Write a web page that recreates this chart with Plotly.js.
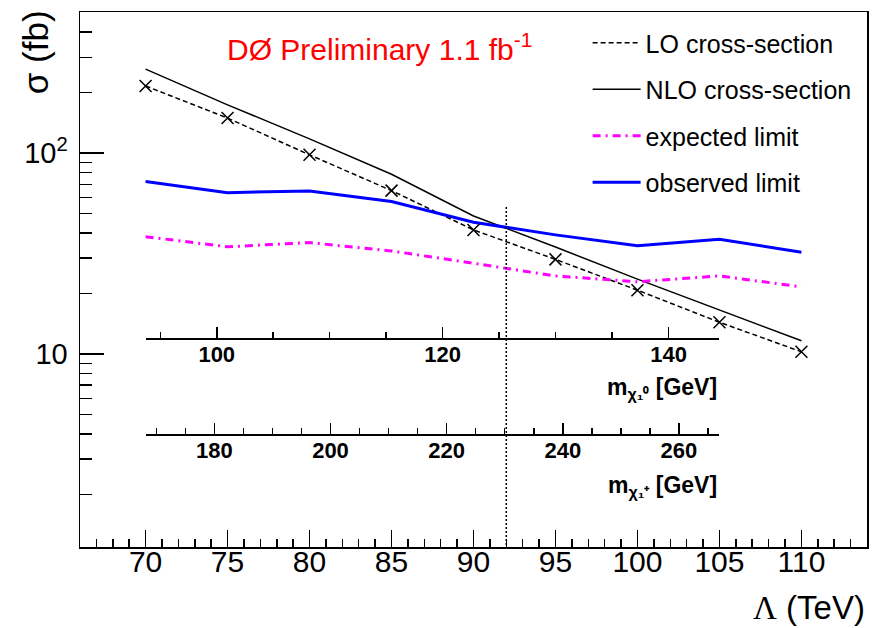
<!DOCTYPE html>
<html>
<head>
<meta charset="utf-8">
<script src="https://cdn.plot.ly/plotly-3.0.1.min.js"></script>
<style>html,body{margin:0;padding:0;background:#fff}#chart{width:872px;height:628px}</style>
</head>
<body>
<div id="chart"></div>
<script>
// Lambda (TeV)
const lambdaTeV = [70, 75, 80, 85, 90, 95, 100, 105, 110];
// cross sections and limits (fb)
const loXsec   = [216, 149.5, 98.1, 65.1, 41.5, 29.6, 20.8, 14.4, 10.27];
const nloXsec  = [262, 174, 117.8, 78.5, 48.7, 34.1, 23.6, 16.6, 11.65];
const expLimit = [38.4, 34.2, 35.9, 32.6, 28.3, 24.5, 22.9, 24.5, 21.6];
const obsLimit = [72.2, 63.6, 64.9, 57.4, 45.3, 39.2, 34.6, 37.3, 32.1];
// vertical exclusion marker
const exclLambda = [92, 92];
const exclSigma  = [54, 1.096];
// tick values
const yMajorTicks = [10, 100];
const yMajorLabels = ["10", "10<sup>2</sup>"];
const yMinorTicks = [2,3,4,5,6,7,8,9,20,30,40,50,60,70,80,90,200,300,400,500];
const mChi0Ticks = [100, 120, 140];
const mChiPTicks = [180, 200, 220, 240, 260];

const FONT = "Liberation Sans, Arial, Helvetica, sans-serif";

const traces = [
  {x: lambdaTeV, y: loXsec, mode: 'lines', name: 'LO cross-section', legendgroup: 'a',
   line: {color: 'black', width: 1.5, dash: '5px,3px'}},
  {x: lambdaTeV, y: nloXsec, mode: 'lines', name: 'NLO cross-section', legendgroup: 'b',
   line: {color: 'black', width: 1.5}},
  {x: lambdaTeV, y: expLimit, mode: 'lines', name: 'expected limit', legendgroup: 'c',
   line: {color: '#ff00ff', width: 3, dash: '8px,5px,2px,5px'}},
  {x: lambdaTeV, y: obsLimit, mode: 'lines', name: 'observed limit', legendgroup: 'd',
   line: {color: '#0000ff', width: 3}},
  {x: lambdaTeV, y: loXsec, mode: 'markers', showlegend: false, hoverinfo: 'skip',
   marker: {symbol: 'x-thin-open', size: 12, color: 'black', line: {color: 'black', width: 1.5}}},
  {x: exclLambda, y: exclSigma, mode: 'lines', showlegend: false, hoverinfo: 'skip',
   line: {color: 'black', width: 1.5, dash: '2px,2px'}},
  {x: mChi0Ticks, y: mChi0Ticks.map(() => null), xaxis: 'x2', yaxis: 'y', mode: 'markers',
   showlegend: false, hoverinfo: 'skip'},
  {x: mChiPTicks, y: mChiPTicks.map(() => null), xaxis: 'x3', yaxis: 'y', mode: 'markers',
   showlegend: false, hoverinfo: 'skip'}
];

const secAxis = (range, pos) => ({
  range: range, domain: [4/48, 39/48], anchor: 'free', position: pos,
  tickmode: 'linear', tick0: 100, dtick: 20,
  ticks: 'inside', ticklen: 11, tickwidth: 1.5, tickcolor: 'black',
  minor: {dtick: 5, ticks: 'inside', ticklen: 6, tickwidth: 1.5, tickcolor: 'black'},
  showline: true, linecolor: 'black', linewidth: 1.5,
  showgrid: false, zeroline: false, fixedrange: true,
  ticklabelstandoff: -4,
  tickfont: {family: FONT, size: 22, color: 'black', weight: 'bold'}
});

const layout = {
  width: 872, height: 628,
  margin: {l: 80, r: 5, t: 12, b: 81},
  paper_bgcolor: 'white', plot_bgcolor: 'rgba(0,0,0,0)',
  font: {family: FONT, color: 'black'},
  showlegend: true,
  legend: {x: 0.645, xanchor: 'left', y: 0.985, yanchor: 'top',
           font: {family: FONT, size: 25, color: 'black'},
           bgcolor: 'rgba(0,0,0,0)', traceorder: 'grouped', tracegroupgap: 11,
           itemwidth: 48},
  xaxis: {range: [66, 114], tickmode: 'linear', tick0: 70, dtick: 5,
          ticks: 'inside', ticklen: 17, tickwidth: 1.5, tickcolor: 'black',
          minor: {dtick: 1, ticks: 'inside', ticklen: 8, tickwidth: 1.5, tickcolor: 'black'},
          showline: true, mirror: true, linecolor: 'black', linewidth: 1.5,
          showgrid: false, zeroline: false, ticklabelstandoff: -13,
          tickfont: {family: FONT, size: 30, color: 'black'}},
  yaxis: {type: 'log', range: [0.04, 2.7025], tickmode: 'array',
          tickvals: yMajorTicks, ticktext: yMajorLabels,
          ticks: 'inside', ticklen: 24, tickwidth: 1.5, tickcolor: 'black',
          minor: {tickmode: 'array', tickvals: yMinorTicks, ticks: 'inside', ticklen: 12, tickwidth: 1.5, tickcolor: 'black'},
          showline: true, mirror: true, linecolor: 'black', linewidth: 1.5,
          showgrid: false, zeroline: false, ticklabelstandoff: 5,
          tickfont: {family: FONT, size: 29, color: 'black'}},
  xaxis2: Object.assign(secAxis([93.7, 144.5], 0.3903), {tick0: 100}),
  xaxis3: Object.assign(secAxis([168.16, 266.97], 0.2108), {tick0: 180}),
  annotations: [
    {text: 'DØ Preliminary 1.1 fb<sup>-1</sup>', xref: 'paper', yref: 'paper',
     x: 0.184, y: 0.9355, xanchor: 'left', yanchor: 'middle', showarrow: false,
     font: {family: FONT, size: 30, color: '#ff0000'}},
    {text: 'σ (fb)', xref: 'paper', yref: 'paper', textangle: -90,
     x: -0.057, y: 0.925, xanchor: 'center', yanchor: 'middle', showarrow: false,
     font: {family: FONT, size: 35, color: 'black'}},
    {text: '<span style="font-family:Liberation Serif">Λ</span> (TeV)', xref: 'paper', yref: 'paper',
     x: 1.0, y: -0.1505, xanchor: 'right', yanchor: 'bottom', showarrow: false,
     font: {family: FONT, size: 33, color: 'black'}},
    {text: 'm<sub>χ₁⁰</sub> [GeV]', xref: 'paper', yref: 'paper',
     x: 39/48, y: 0.297, xanchor: 'right', yanchor: 'middle', showarrow: false,
     font: {family: FONT, size: 23, color: 'black', weight: 'bold'}},
    {text: 'm<sub>χ₁⁺</sub> [GeV]', xref: 'paper', yref: 'paper',
     x: 39/48, y: 0.1137, xanchor: 'right', yanchor: 'middle', showarrow: false,
     font: {family: FONT, size: 23, color: 'black', weight: 'bold'}}
  ]
};

Plotly.newPlot('chart', traces, layout, {staticPlot: true, displayModeBar: false});
</script>
</body>
</html>
